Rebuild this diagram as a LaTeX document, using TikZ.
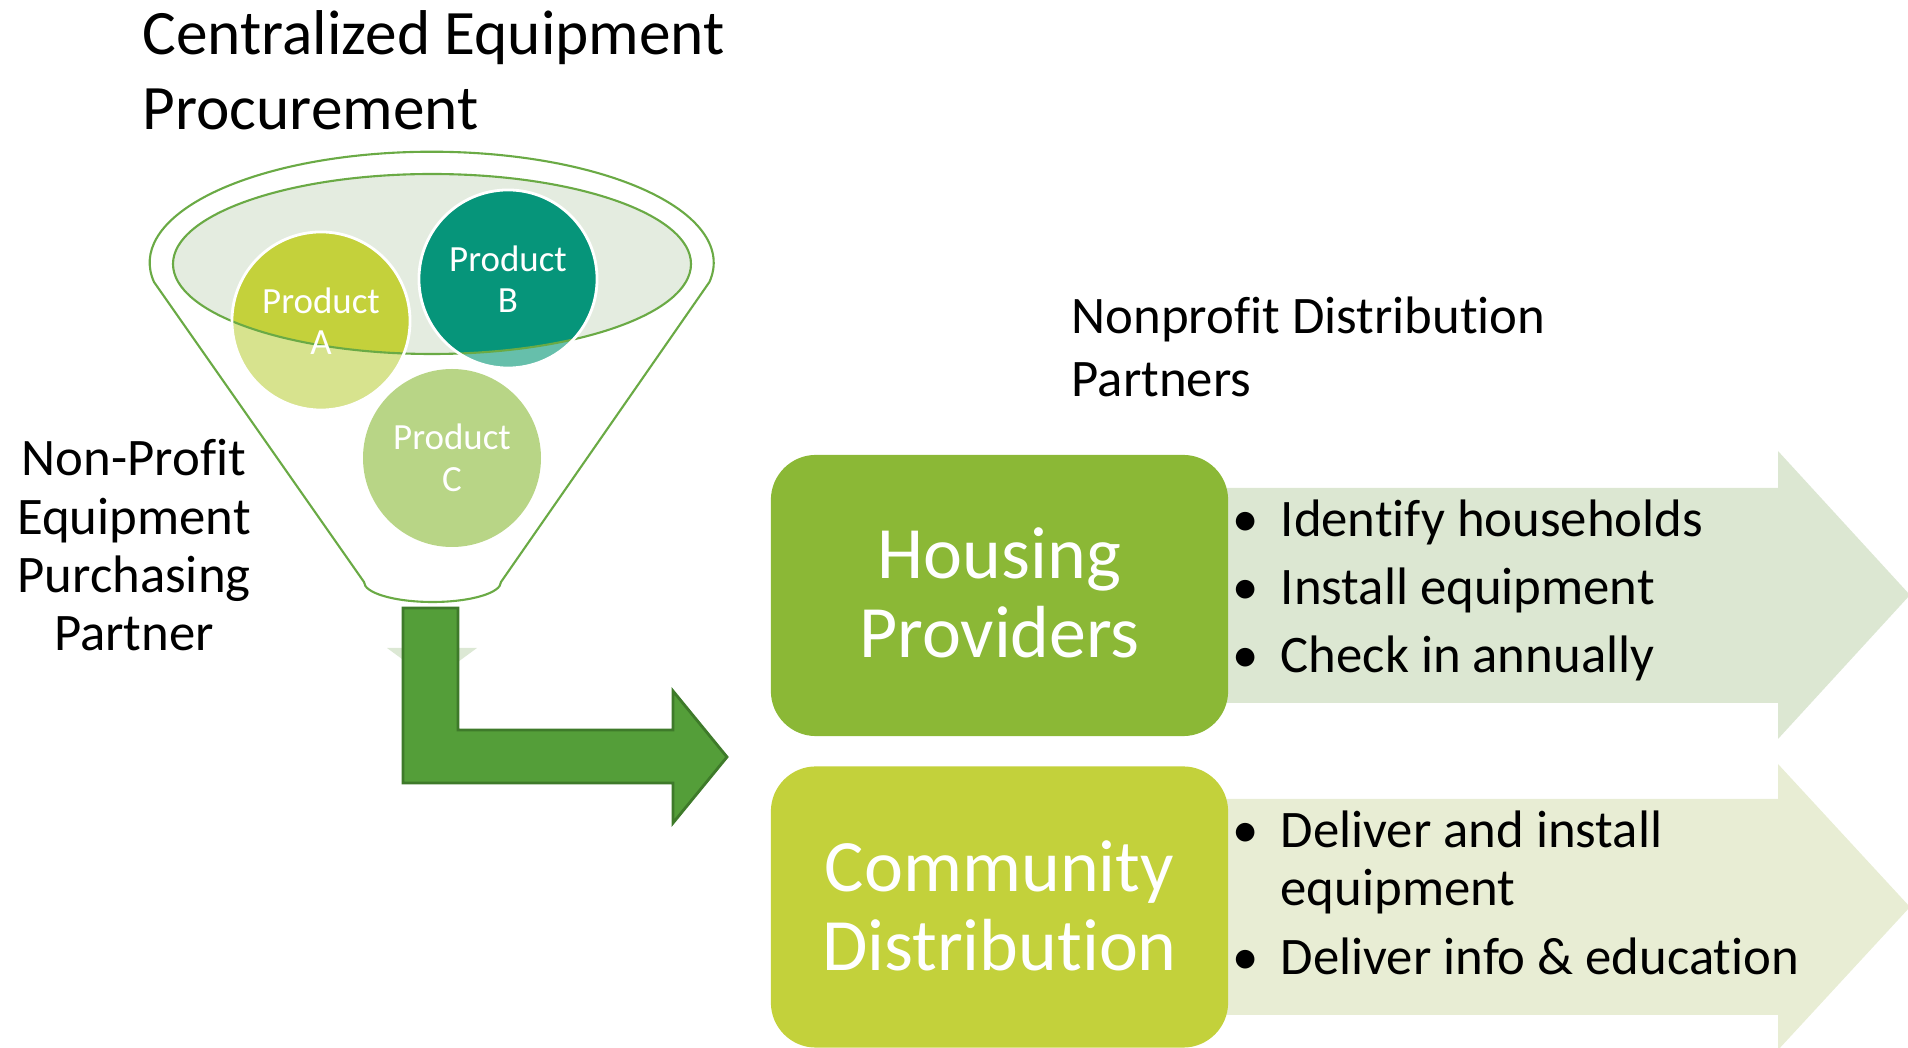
\documentclass[tikz,border=0pt]{standalone}
\usepackage{fontspec}
\setmainfont{Carlito}[Ligatures={NoCommon}]
\usetikzlibrary{positioning}
\definecolor{funnelgreen}{HTML}{6AAA45}
\definecolor{rimfill}{HTML}{E4ECE0}
\definecolor{prodA}{HTML}{C4D13B}
\definecolor{prodAlight}{HTML}{D7E38E}
\definecolor{prodB}{HTML}{06957A}
\definecolor{prodBlight}{HTML}{66BFAB}
\definecolor{prodClight}{HTML}{B8D586}
\definecolor{bendgreen}{HTML}{549E39}
\definecolor{benddark}{HTML}{3E7A2A}
\definecolor{shadowgreen}{HTML}{DCE8D4}
\definecolor{housegreen}{HTML}{8BB836}
\definecolor{commgreen}{HTML}{C3D13B}
\definecolor{housearrow}{HTML}{DCE7D2}
\definecolor{commarrow}{HTML}{E8EDD4}

\begin{document}
\begin{tikzpicture}[x=0.01cm,y=0.01cm,
    prod/.style={circle,minimum size=1.78cm,draw=white,line width=0.8pt,inner sep=0pt,
      text=white,align=center,font=\fontsize{10.5}{11.8}\selectfont},
    partnerbox/.style={rounded corners=0.45cm,minimum width=4.57cm,minimum height=2.81cm,inner sep=0pt},
    boxlabel/.style={anchor=base,align=center,inner sep=0pt,text=white,font=\fontsize{21}{22.7}\selectfont},
    item/.style={anchor=base west,align=left,inner sep=0pt,font=\fontsize{15}{16.6}\selectfont},
    dot/.style={anchor=base,inner sep=0pt,font=\fontsize{15}{16.6}\selectfont}]
                    \useasboundingbox (0,0) rectangle (1908,1048);
                    % funnel body
                    \draw[funnelgreen,line width=0.6pt] (154,766) arc[start angle=190,end angle=-10,x radius=282,y radius=111]
                        -- (501,466) arc[start angle=0,end angle=-180,x radius=68.5,y radius=20] -- cycle;
                    % bent arrow out of the funnel
                    \fill[shadowgreen] (387,400) -- (477,400) -- (432,367) -- cycle;
                    \draw[benddark,fill=bendgreen,line width=0.8pt] (403,440) -- (458,440) -- (458,318) -- (673,318) -- (673,357)
                        -- (727,291) -- (673,225) -- (673,265) -- (403,265) -- cycle;
                    % rim and products
                    \fill[rimfill] (432,784) ellipse (259 and 90);
                    \fill[prodAlight] (321,727) circle (89);
                    \fill[prodBlight] (508,769) circle (89);
                    \fill[prodClight] (452,590) circle (89);
                    \begin{scope}
                        \clip (432,784) ellipse (259 and 90);
                        \fill[prodA] (321,727) circle (89);
                        \fill[prodB] (508,769) circle (89);
                    \end{scope}
                    \draw[funnelgreen,line width=0.6pt] (432,784) ellipse (259 and 90);
                    \node[prod] (pa) at (321,727) {Product\\A};
                    \node[prod] (pb) at (508,769) {Product\\B};
                    \node[prod,draw=none] (pc) at (452,590) {Product\\C};
                    % side and top texts (base = last line)
                    \node[anchor=base west,align=left,inner sep=0pt,font=\fontsize{18}{21.5}\selectfont] (title) at (142,918) {Centralized Equipment\\Procurement};
                    \node[anchor=base,align=center,inner sep=0pt,font=\fontsize{15}{16.6}\selectfont] (buyer) at (134,397) {Non-Profit\\Equipment\\Purchasing\\Partner};
                    \node[anchor=base west,align=left,inner sep=0pt,font=\fontsize{15}{18}\selectfont] (partners) at (1071,651) {Nonprofit Distribution\\Partners};
                    % partner arrows
                    \fill[housearrow] (1200,560) -- (1778,560) -- (1778,597) -- (1910,453) -- (1778,309) -- (1778,345) -- (1200,345) -- cycle;
                    \fill[commarrow] (1200,249) -- (1778,249) -- (1778,284) -- (1910,141) -- (1778,-2) -- (1778,33) -- (1200,33) -- cycle;
                    \node[partnerbox,fill=housegreen] (housing) at (999.5,452.5) {};
                    \node[partnerbox,fill=commgreen] (community) at (999.5,141) {};
                    \node[boxlabel] (hlabel) at (999.5,390) {Housing\\Providers};
                    \node[boxlabel] (clabel) at (999.5,77) {Community\\Distribution};
                    % tasks
                    \node[dot] (hd1) at (1246,511) {\textbullet};
                    \node[dot] (hd2) at (1246,443) {\textbullet};
                    \node[dot] (hd3) at (1246,375) {\textbullet};
                    \node[item] (h1) at (1280,511) {Identify households};
                    \node[item] (h2) at (1280,443) {Install equipment};
                    \node[item] (h3) at (1280,375) {Check in annually};
                    \node[dot] (cd1) at (1246,200) {\textbullet};
                    \node[dot] (cd2) at (1246,73) {\textbullet};
                    \node[item] (c1) at (1280,142) {Deliver and install\\equipment};
                    \node[item] (c2) at (1280,73) {Deliver info \& education};
                \end{tikzpicture}
\end{document}
